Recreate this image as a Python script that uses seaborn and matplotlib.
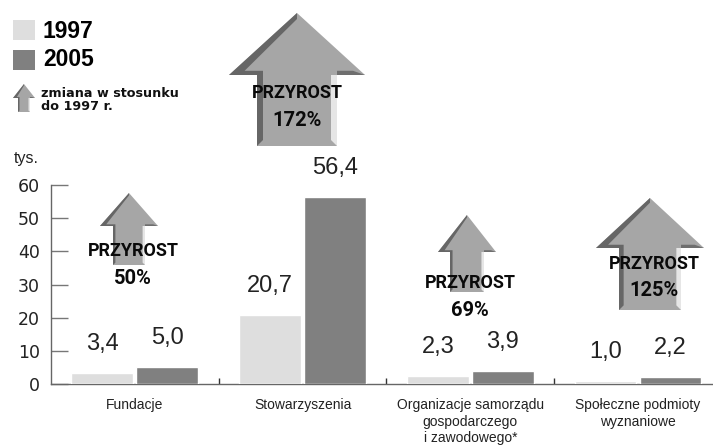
import pandas as pd
import matplotlib
matplotlib.use('Agg')
import matplotlib.pyplot as plt
import seaborn as sns
from matplotlib.patches import Polygon, Rectangle

W, H = 713, 448

# Data
categories = ['Fundacje', 'Stowarzyszenia',
              'Organizacje samorządu\ngospodarczego\ni zawodowego*',
              'Społeczne podmioty\nwyznaniowe']
years = ['1997', '2005']
values_1997 = [3.4, 20.7, 2.3, 1.0]
values_2005 = [5.0, 56.4, 3.9, 2.2]
growth = ['50%', '172%', '69%', '125%']

# Arrow layout in pixels: tip x, tip y, wing half width, wing y, stem half width, bottom y
arrow_boxes = [(129, 193, 29, 226, 16, 265),
               (297, 13, 68, 75, 40, 146),
               (467, 215, 29, 252, 17, 292),
               (650, 198, 54, 248, 31, 310)]
# Centre of the text block on each arrow
growth_text = [(133, 251), (297, 93), (470, 283), (654, 264)]

df = pd.DataFrame({
    'kategoria': categories * 2,
    'rok': [years[0]] * 4 + [years[1]] * 4,
    'tys': values_1997 + values_2005,
})

sns.set_style('white')
fig = plt.figure(figsize=(W / 100, H / 100), dpi=100)
ax = fig.add_axes([51 / W, (H - 384) / H, (W - 51) / W, 199 / H])

sns.barplot(data=df, x='kategoria', y='tys', hue='rok', palette=['#dedede', '#808080'],
            width=0.775, gap=0.05, saturation=1, legend=False, ax=ax, zorder=3)

ax.set_xlim(-0.5, 3.447)
ax.set_ylim(0, 60)
ax.set_xlabel('')
ax.set_ylabel('')
sns.despine(ax=ax, top=True, right=True)
for side in ['left', 'bottom']:
    ax.spines[side].set_color('#666666')
    ax.spines[side].set_linewidth(1.0)

# Y axis: long grey inward ticks, wide numerals
ax.set_yticks(range(0, 61, 10))
ax.tick_params(axis='y', direction='in', length=12, width=1.0, color='#777777', left=True,
               pad=8, labelsize=12.5, labelcolor='#222222')
for label in ax.get_yticklabels():
    label.set_family('DejaVu Sans')

# X axis: labels under the groups, short ticks between them
ax.set_xticks(range(4))
ax.set_xticklabels(categories, fontsize=10, family='Liberation Sans', color='#222222', linespacing=1.25)
ax.tick_params(axis='x', length=0, pad=10, bottom=False)
ax.set_xticks([0.5, 1.5, 2.5], minor=True)
ax.tick_params(axis='x', which='minor', direction='in', length=4, width=1.0, color='#333333', bottom=True)

# Value labels above bars
for container, vals in zip(ax.containers, [values_1997, values_2005]):
    ax.bar_label(container, labels=[f'{v:.1f}'.replace('.', ',') for v in vals], padding=13,
                 fontsize=17, family='Liberation Sans', color='#222222')

# Pixel overlay for arrows, legend and the unit
over = fig.add_axes([0, 0, 1, 1], zorder=5)
over.set_xlim(0, W)
over.set_ylim(H, 0)
over.axis('off')
over.patch.set_alpha(0)


def draw_arrow(tx, ty, wing, wing_y, stem, bottom):
    bevel = max(1.5, stem * 0.15)
    over.add_patch(Polygon([(tx, ty), (tx + wing, wing_y), (tx + stem, wing_y), (tx + stem, bottom),
                            (tx - stem, bottom), (tx - stem, wing_y), (tx - wing, wing_y)],
                           closed=True, fc='#a6a6a6', ec='none'))
    # dark bevel on the left of the head and the stem
    over.add_patch(Polygon([(tx, ty), (tx - wing, wing_y), (tx - stem, wing_y), (tx - stem, bottom),
                            (tx - stem + bevel, bottom - bevel), (tx - stem + bevel, wing_y - bevel * 0.7),
                            (tx - wing + bevel * 2.6, wing_y - bevel * 0.7), (tx, ty + bevel)],
                           closed=True, fc='#666666', ec='none'))
    # dark underside of the right wing, light edge of the stem
    over.add_patch(Polygon([(tx + stem, wing_y), (tx + wing, wing_y), (tx + wing - bevel * 2, wing_y - bevel * 0.7),
                            (tx + stem, wing_y - bevel * 0.7)], closed=True, fc='#6e6e6e', ec='none'))
    over.add_patch(Polygon([(tx + stem, wing_y), (tx + stem, bottom), (tx + stem - bevel, bottom - bevel),
                            (tx + stem - bevel, wing_y)], closed=True, fc='#e6e6e6', ec='none'))


for box, pos, pct in zip(arrow_boxes, growth_text, growth):
    draw_arrow(*box)
    over.text(pos[0], pos[1], 'PRZYROST', ha='center', va='center', fontsize=13, fontweight='bold',
              family='Roboto', color='#0a0a0a')
    over.text(pos[0], pos[1] + 27, pct, ha='center', va='center', fontsize=14.5, fontweight='bold',
              family='Roboto', color='#0a0a0a')

# Legend
over.add_patch(Rectangle((13, 20), 22, 20, fc='#dedede', ec='none'))
over.add_patch(Rectangle((13, 50), 22, 20, fc='#808080', ec='none'))
over.text(43, 31, years[0], ha='left', va='center', fontsize=16.5, fontweight='bold',
          family='Liberation Sans', color='black')
over.text(43, 60, years[1], ha='left', va='center', fontsize=16.5, fontweight='bold',
          family='Liberation Sans', color='black')
draw_arrow(24, 84, 11, 98, 6, 112)
over.text(41, 100, 'zmiana w stosunku\ndo 1997 r.', ha='left', va='center', fontsize=9.2, fontweight='bold',
          family='DejaVu Sans', color='#111111', linespacing=1.0)
over.text(14, 159, 'tys.', ha='left', va='center', fontsize=11.5, family='Liberation Sans', color='#222222')

fig.savefig('out.png', dpi=100, facecolor='white')
